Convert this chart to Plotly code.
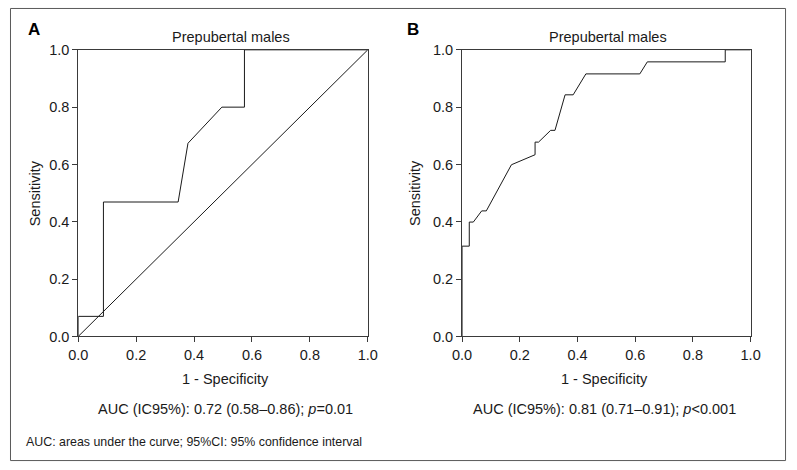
import plotly.graph_objects as go

# Panel A ROC curve (1 - specificity, sensitivity)
a_fpr = [0.0, 0.0, 0.087, 0.087, 0.345, 0.379, 0.496, 0.574, 0.574, 1.0]
a_tpr = [0.0, 0.07, 0.07, 0.469, 0.469, 0.674, 0.80, 0.80, 1.0, 1.0]

# Panel B ROC curve
b_fpr = [0.0, 0.0, 0.025, 0.025, 0.039, 0.068, 0.084, 0.171, 0.253, 0.253, 0.265,
         0.307, 0.322, 0.357, 0.385, 0.429, 0.616, 0.642, 0.912, 0.912, 1.0]
b_tpr = [0.0, 0.315, 0.315, 0.399, 0.399, 0.438, 0.438, 0.599, 0.634, 0.678, 0.678,
         0.719, 0.719, 0.843, 0.843, 0.916, 0.916, 0.958, 0.958, 1.0, 1.0]

ref_line = [0.0, 1.0]
ticks = [0.0, 0.2, 0.4, 0.6, 0.8, 1.0]
tick_text = ["0.0", "0.2", "0.4", "0.6", "0.8", "1.0"]

panel_titles = ["Prepubertal males", "Prepubertal males"]
panel_letters = ["A", "B"]
x_title = "1 - Specificity"
y_title = "Sensitivity"
auc_texts = ["AUC (IC95%): 0.72 (0.58–0.86); <i>p</i>=0.01",
             "AUC (IC95%): 0.81 (0.71–0.91); <i>p</i><0.001"]
footnote = "AUC: areas under the curve; 95%CI: 95% confidence interval"

W, H = 797, 470
FONT = "Liberation Sans, Arial, sans-serif"
TXT = "#1a1a1a"
LINE = "#1a1a1a"
AX = "#3a3a3a"

fig = go.Figure()
fig.add_trace(go.Scatter(x=a_fpr, y=a_tpr, mode="lines", line=dict(color=LINE, width=1),
                         xaxis="x", yaxis="y", showlegend=False, hoverinfo="skip"))
fig.add_trace(go.Scatter(x=ref_line, y=ref_line, mode="lines", line=dict(color=LINE, width=1),
                         xaxis="x", yaxis="y", showlegend=False, hoverinfo="skip"))
fig.add_trace(go.Scatter(x=b_fpr, y=b_tpr, mode="lines", line=dict(color=LINE, width=1),
                         xaxis="x2", yaxis="y2", showlegend=False, hoverinfo="skip"))

def px_x(v):
    return v / W

def px_y(v):
    return (H - v) / H

y_dom = [px_y(340), px_y(43.3)]
x_doms = [[px_x(70), px_x(367)], [px_x(463.7), px_x(759.7)]]

def axis(dom, anchor):
    return dict(domain=dom, anchor=anchor, range=[0, 1], tickvals=ticks, ticktext=tick_text,
                showgrid=False, zeroline=False, showline=True, mirror=True, linecolor=AX,
                linewidth=1, ticks="outside", ticklen=5, tickcolor=AX, fixedrange=True,
                tickfont=dict(family=FONT, size=14.5, color=TXT))

annotations = []
title_cx = [226.5, 613]
text_cx = [221, 610]
letter_x = [25, 413]
ylab_x = [26.5, 416]
for i in range(2):
    annotations.append(dict(text=panel_titles[i], x=px_x(title_cx[i]), y=px_y(30),
                            xref="paper", yref="paper", showarrow=False,
                            font=dict(family=FONT, size=14.5, color=TXT),
                            xanchor="center", yanchor="middle"))
    annotations.append(dict(text="<b>" + panel_letters[i] + "</b>", x=px_x(letter_x[i]),
                            y=px_y(22), xref="paper", yref="paper", showarrow=False,
                            font=dict(family=FONT, size=17, color="#000000"),
                            xanchor="center", yanchor="middle"))
    annotations.append(dict(text=x_title, x=px_x(text_cx[i]), y=px_y(384),
                            xref="paper", yref="paper", showarrow=False,
                            font=dict(family=FONT, size=14.5, color=TXT),
                            xanchor="center", yanchor="middle"))
    annotations.append(dict(text=y_title, x=px_x(ylab_x[i]), y=px_y(192), textangle=-90,
                            xref="paper", yref="paper", showarrow=False,
                            font=dict(family=FONT, size=14.5, color=TXT),
                            xanchor="center", yanchor="middle"))
    annotations.append(dict(text=auc_texts[i], x=px_x(text_cx[i]), y=px_y(415),
                            xref="paper", yref="paper", showarrow=False,
                            font=dict(family=FONT, size=14.5, color=TXT),
                            xanchor="center", yanchor="middle"))
annotations.append(dict(text=footnote, x=px_x(14), y=px_y(449), xref="paper", yref="paper",
                        showarrow=False, font=dict(family=FONT, size=12.4, color=TXT),
                        xanchor="left", yanchor="middle"))

fig.update_layout(
    width=W, height=H, margin=dict(l=0, r=0, t=0, b=0),
    paper_bgcolor="white", plot_bgcolor="white",
    xaxis=axis(x_doms[0], "y"), yaxis=axis(y_dom, "x"),
    xaxis2=axis(x_doms[1], "y2"), yaxis2=axis(y_dom, "x2"),
    annotations=annotations,
    shapes=[dict(type="rect", xref="paper", yref="paper", x0=px_x(0.5), x1=px_x(795.5),
                 y0=px_y(468.5), y1=px_y(0.5), line=dict(color="#5a5a5a", width=1))],
)

fig.write_html("out.html", config={"displayModeBar": False, "staticPlot": True},
               post_script="document.body.style.margin='0';document.body.style.overflow='hidden';")
